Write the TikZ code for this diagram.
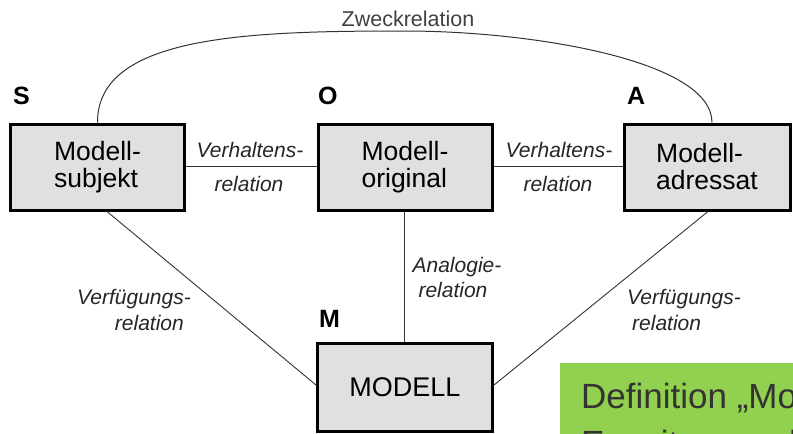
\documentclass[tikz,border=0pt]{standalone}
\usepackage{fontspec}
\setmainfont{Liberation Sans}
\definecolor{boxgray}{HTML}{E0E0E0}
\definecolor{linegray}{HTML}{333333}
\definecolor{labgray}{HTML}{262626}
\definecolor{zweckgray}{HTML}{404040}
\definecolor{defgreen}{HTML}{92D050}
\definecolor{deftext}{HTML}{333333}
\begin{document}
\begin{tikzpicture}[x=1pt,y=-1pt,
  box/.style={draw=black, line width=3pt, fill=boxgray, minimum height=86pt,
    inner sep=0pt, font=\fontsize{26.5}{27}\selectfont, align=left, text=black},
  rel/.style={draw=linegray, line width=0.9pt},
  lab/.style={font=\fontsize{21}{25}\selectfont\itshape, text=labgray, inner sep=0pt},
  letter/.style={font=\fontsize{25}{25}\selectfont\bfseries, anchor=base west, inner sep=0pt, text=black}]
\useasboundingbox (0,0) rectangle (793,434);
\clip (0,0) rectangle (793,434);

% green definition box (clipped at the picture border)
\fill[defgreen] (560,363) rectangle (800,440);
\node[anchor=base west, inner sep=0pt, text=deftext, font=\fontsize{35}{40}\selectfont] (def1) at (581,408) {Definition „Modell“};
\node[anchor=base west, inner sep=0pt, text=deftext, font=\fontsize{35}{40}\selectfont] (def2) at (581,455) {Erweiterung des Modellbegriffs};

% boxes
\node[box, minimum width=174pt] (S) at (97.5,167) {Modell-\\subjekt};
\node[box, minimum width=174pt] (O) at (405,167) {Modell-\\original};
\node[box, minimum width=166pt] (A) at (707,167) {Modell-\\adressat};
\node[box, minimum width=175pt, minimum height=88pt, font=\fontsize{27}{27}\selectfont] (M) at (405,387) {MODELL};

% letters
\node[letter] (lS) at (13,104) {S};
\node[letter] (lO) at (318,104) {O};
\node[letter] (lA) at (627,104) {A};
\node[letter] (lM) at (319,327) {M};

% connectors
\draw[rel] ([yshift=1pt]S.east) -- ([yshift=1pt]O.west);
\draw[rel] ([yshift=1pt]O.east) -- ([yshift=1pt]A.west);
\draw[rel] ([xshift=-1pt]O.south) -- ([xshift=-1pt]M.north);
\draw[rel] ([xshift=9.5pt]S.south) -- ([yshift=2pt]M.west);
\draw[rel] ([xshift=1pt]A.south) -- ([yshift=2pt]M.east);
\coordinate (top) at (405,31);
\draw[rel, line width=1pt] (S.north) .. controls (97,35) and (250,31) .. (top)
  .. controls (530,31) and (712,60) .. ([xshift=5pt]A.north);

% labels
\node[anchor=base, inner sep=0pt, text=zweckgray, font=\fontsize{21.5}{25}\selectfont] (zw) at (408,26) {Zweckrelation};
\node[lab, anchor=base] (vh1a) at (250,157) {Verhaltens-};
\node[lab, anchor=base] (vh1b) at (249,191) {relation};
\node[lab, anchor=base] (vh2a) at (559,157) {Verhaltens-};
\node[lab, anchor=base] (vh2b) at (558,191) {relation};
\node[lab, anchor=base] (ana1) at (457,272) {Analogie-};
\node[lab, anchor=base] (ana2) at (453,297) {relation};
\node[lab, anchor=base east] (vf1a) at (191,304) {Verfügungs-};
\node[lab, anchor=base east] (vf1b) at (184,330) {relation};
\node[lab, anchor=base west] (vf2a) at (627,304) {Verfügungs-};
\node[lab, anchor=base west] (vf2b) at (632,330) {relation};
\end{tikzpicture}
\end{document}
